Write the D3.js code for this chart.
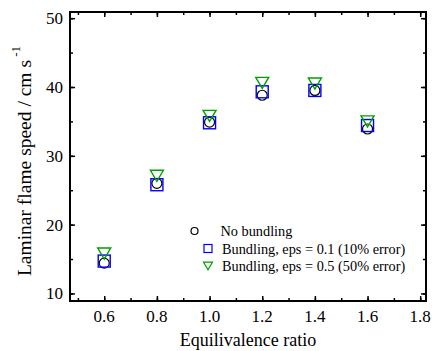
<!DOCTYPE html>
<html>
<head>
<meta charset="utf-8">
<script src="https://cdn.jsdelivr.net/npm/d3@7"></script>
<style>
  body { margin: 0; background: #fff; }
</style>
</head>
<body>
<div id="chart"></div>
<script>
const width = 432;
const height = 351;

// Data
const ratios = [0.6, 0.8, 1.0, 1.2, 1.4, 1.6];
const noBundling = [14.4, 26.0, 34.9, 38.8, 39.5, 33.9];
const bundling01 = [14.7, 25.8, 34.8, 39.3, 39.5, 34.4];
const bundling05 = [15.8, 27.1, 35.8, 40.6, 40.5, 35.0];
const seriesLabels = ["No bundling", "Bundling, eps = 0.1 (10% error)", "Bundling, eps = 0.5 (50% error)"];
const xTicks = [0.6, 0.8, 1.0, 1.2, 1.4, 1.6, 1.8];
const yTicks = [10, 20, 30, 40, 50];

// Plot frame
const plotL = 70, plotR = 426, plotT = 12, plotB = 301;
const serif = "Liberation Serif";

const x = d3.scaleLinear().domain([0.47, 1.822]).range([plotL, plotR]);
const y = d3.scaleLinear().domain([8.9, 50.9]).range([plotB, plotT]);

const svg = d3.select("#chart").append("svg")
    .attr("width", width)
    .attr("height", height);

// minor ticks
const xMinor = d3.range(0.5, 1.81, 0.1).map(d => +d.toFixed(1));
const yMinor = d3.range(10, 51, 5);

function drawAxis(axis, tx, ty, cls) {
    const g = svg.append("g")
        .attr("class", cls)
        .attr("transform", `translate(${tx},${ty})`)
        .call(axis);
    g.select(".domain").remove();
    g.selectAll("line").attr("stroke", "#000").attr("stroke-width", 1.5);
    return g;
}

// bottom
drawAxis(d3.axisBottom(x).tickValues(xMinor).tickSize(-3).tickFormat(""), 0, plotB, "xminor");
drawAxis(d3.axisBottom(x).tickValues(xTicks).tickSize(-5).tickFormat(""), 0, plotB, "xmajor");
// top
drawAxis(d3.axisTop(x).tickValues(xMinor).tickSize(-3).tickFormat(""), 0, plotT, "xminor-top");
drawAxis(d3.axisTop(x).tickValues(xTicks).tickSize(-5).tickFormat(""), 0, plotT, "xmajor-top");
// left
drawAxis(d3.axisLeft(y).tickValues(yMinor).tickSize(-3).tickFormat(""), plotL, 0, "yminor");
drawAxis(d3.axisLeft(y).tickValues(yTicks).tickSize(-5).tickFormat(""), plotL, 0, "ymajor");
// right
drawAxis(d3.axisRight(y).tickValues(yMinor).tickSize(-3).tickFormat(""), plotR, 0, "yminor-r");
drawAxis(d3.axisRight(y).tickValues(yTicks).tickSize(-5).tickFormat(""), plotR, 0, "ymajor-r");

// frame
svg.append("rect")
    .attr("x", plotL)
    .attr("y", plotT)
    .attr("width", plotR - plotL)
    .attr("height", plotB - plotT)
    .attr("fill", "none")
    .attr("stroke", "#000")
    .attr("stroke-width", 2);

// tick labels
svg.selectAll(".xlab")
    .data(xTicks)
    .enter()
    .append("text")
    .attr("x", d => x(d))
    .attr("y", plotB + 21)
    .attr("text-anchor", "middle")
    .attr("font-family", serif)
    .attr("font-size", 17)
    .text(d => d.toFixed(1));

svg.selectAll(".ylab")
    .data(yTicks)
    .enter()
    .append("text")
    .attr("x", plotL - 7)
    .attr("y", d => y(d) + 6)
    .attr("text-anchor", "end")
    .attr("font-family", serif)
    .attr("font-size", 17)
    .text(d => d);

// axis titles
svg.append("text")
    .attr("x", (plotL + plotR) / 2)
    .attr("y", 346)
    .attr("text-anchor", "middle")
    .attr("font-family", serif)
    .attr("font-size", 18)
    .text("Equilivalence ratio");

const ylabel = svg.append("text")
    .attr("transform", "translate(31,161) rotate(-90)")
    .attr("text-anchor", "middle")
    .attr("font-family", serif)
    .attr("font-size", 19.5);
ylabel.append("tspan").text("Laminar flame speed / cm s");
ylabel.append("tspan").attr("dy", -11).attr("font-size", 13).text(" -1");

// markers
function pts(vals) {
    return ratios.map((r, i) => ({x: r, y: vals[i]}));
}

const triPath = s => `M${-s},${-s * 0.85}L${s},${-s * 0.85}L0,${s * 0.85}Z`;

svg.selectAll(".circ")
    .data(pts(noBundling))
    .enter()
    .append("circle")
    .attr("cx", d => x(d.x))
    .attr("cy", d => y(d.y))
    .attr("r", 5)
    .attr("fill", "none")
    .attr("stroke", "#000")
    .attr("stroke-width", 1.2);

svg.selectAll(".sq")
    .data(pts(bundling01))
    .enter()
    .append("rect")
    .attr("x", d => x(d.x) - 6)
    .attr("y", d => y(d.y) - 6)
    .attr("width", 12)
    .attr("height", 12)
    .attr("fill", "none")
    .attr("stroke", "#0000ff")
    .attr("stroke-width", 1.4);

svg.selectAll(".tri")
    .data(pts(bundling05))
    .enter()
    .append("path")
    .attr("transform", d => `translate(${x(d.x)},${y(d.y)})`)
    .attr("d", triPath(6.5))
    .attr("fill", "none")
    .attr("stroke", "#00a000")
    .attr("stroke-width", 1.4);

// legend
const legY = [231, 248.5, 266];
const lg = svg.append("g").attr("class", "legend");
lg.append("circle")
    .attr("cx", 194.5).attr("cy", legY[0]).attr("r", 3.5)
    .attr("fill", "none").attr("stroke", "#000").attr("stroke-width", 1.2);
lg.append("rect")
    .attr("x", 204).attr("y", legY[1] - 4).attr("width", 8).attr("height", 8)
    .attr("fill", "none").attr("stroke", "#0000ff").attr("stroke-width", 1.2);
lg.append("path")
    .attr("transform", `translate(208,${legY[2]})`)
    .attr("d", triPath(4.5))
    .attr("fill", "none").attr("stroke", "#00a000").attr("stroke-width", 1.2);

lg.selectAll("text")
    .data(seriesLabels)
    .enter()
    .append("text")
    .attr("x", (d, i) => i === 0 ? 220.5 : 222)
    .attr("y", (d, i) => legY[i] + 5)
    .attr("font-family", serif)
    .attr("font-size", 14.3)
    .text(d => d);
</script>
</body>
</html>
